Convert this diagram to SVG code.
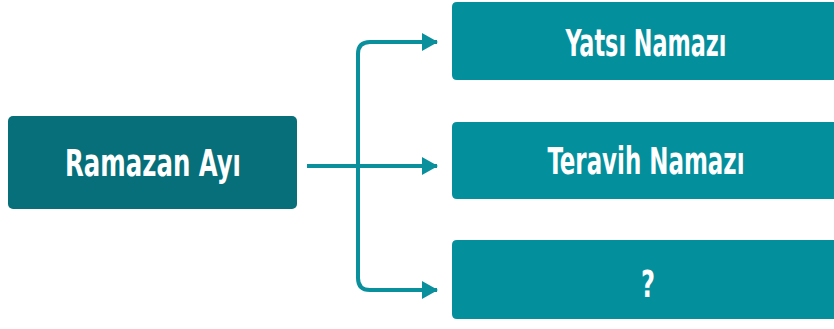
<svg xmlns="http://www.w3.org/2000/svg" width="834" height="329" viewBox="0 0 834 329">
<style>
.main{fill:#066f79}
.box{fill:#048f9d}
.lbl{fill:#ffffff;font-family:"Liberation Sans Narrow","DejaVu Sans Condensed","Liberation Sans",sans-serif;font-stretch:condensed;font-weight:bold;font-size:34px;text-anchor:middle}
.conn{fill:none;stroke:#0a8f9c;stroke-width:4}
</style>
<defs>
<marker id="ah" viewBox="0 0 16 18" refX="15" refY="9" markerWidth="16" markerHeight="18" markerUnits="userSpaceOnUse" orient="auto">
<path d="M0,0 L16,9 L0,18 Z" fill="#0a8f9c"/>
</marker>
</defs>
<g id="connectors">
<path class="conn" d="M307,166 H437" marker-end="url(#ah)"/>
<path class="conn" d="M437,42 H370 Q358,42 358,54 V278 Q358,290 370,290 H437" />
<path class="conn" d="M420,42 H437" marker-end="url(#ah)"/>
<path class="conn" d="M420,290 H437" marker-end="url(#ah)"/>
</g>
<g id="ramazan">
<rect class="main" x="8" y="116" width="289" height="93" rx="5"/>
<text class="lbl" transform="scale(1,1.12)" x="153" y="157.14" textLength="176" lengthAdjust="spacingAndGlyphs">Ramazan Ayı</text>
</g>
<g id="yatsi">
<path class="box" d="M457,2 H834 V80 H457 Q452,80 452,75 V7 Q452,2 457,2 Z"/>
<text class="lbl" transform="scale(1,1.12)" x="646" y="50" textLength="161" lengthAdjust="spacingAndGlyphs">Yatsı Namazı</text>
</g>
<g id="teravih">
<path class="box" d="M457,122 H834 V199 H457 Q452,199 452,194 V127 Q452,122 457,122 Z"/>
<text class="lbl" transform="scale(1,1.12)" x="646" y="155.36" textLength="197" lengthAdjust="spacingAndGlyphs">Teravih Namazı</text>
</g>
<g id="soru">
<path class="box" d="M457,240 H834 V319 H457 Q452,319 452,314 V245 Q452,240 457,240 Z"/>
<text class="lbl" transform="scale(1,1.12)" x="648" y="265.18" textLength="14" lengthAdjust="spacingAndGlyphs">?</text>
</g>
</svg>
